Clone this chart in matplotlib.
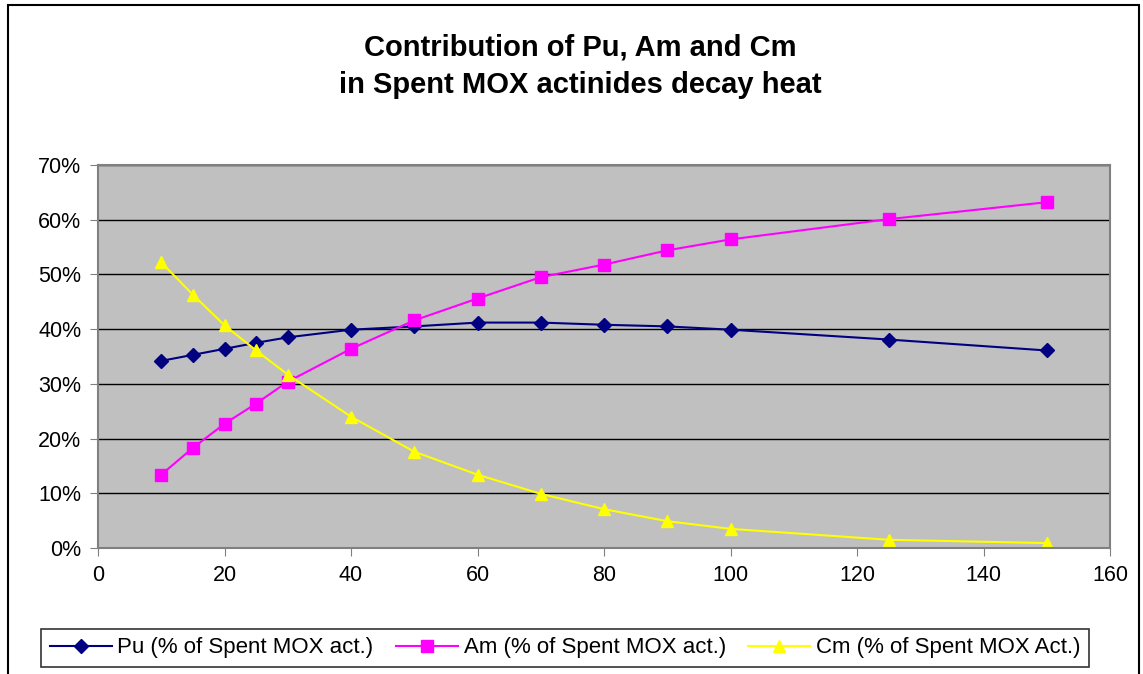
import matplotlib.pyplot as plt
from matplotlib.patches import Rectangle
from matplotlib.ticker import PercentFormatter

plt.rcParams["font.family"] = ["Liberation Sans", "DejaVu Sans"]

# Data
cooling_years = [10, 15, 20, 25, 30, 40, 50, 60, 70, 80, 90, 100, 125, 150]
pu_share = [34.2, 35.3, 36.4, 37.5, 38.5, 39.9, 40.5, 41.2, 41.2, 40.8, 40.5, 39.9, 38.1, 36.1]
am_share = [13.4, 18.3, 22.7, 26.4, 30.4, 36.4, 41.6, 45.6, 49.5, 51.8, 54.4, 56.4, 60.1, 63.2]
cm_share = [52.2, 46.3, 40.7, 36.1, 31.7, 24.0, 17.6, 13.4, 9.9, 7.1, 4.9, 3.5, 1.5, 0.9]

labels = [
    "Pu (% of Spent MOX act.)",
    "Am (% of Spent MOX act.)",
    "Cm (% of Spent MOX Act.)",
]

W, H = 1143, 674
fig = plt.figure(figsize=(W / 100, H / 100), dpi=100)
fig.patch.set_facecolor("white")

# outer chart border
fig.patches.append(Rectangle((8 / W, -0.01), 1131 / W, 1 - 5 / H + 0.01,
                             transform=fig.transFigure, fill=False,
                             edgecolor="black", linewidth=1.5))

ax = fig.add_axes([98 / W, 1 - 548 / H, 1012 / W, 383 / H])
ax.set_facecolor("#C0C0C0")

ax.plot(cooling_years, pu_share, color="#000080", marker="D", markersize=7,
        linewidth=1.5, label=labels[0])
ax.plot(cooling_years, am_share, color="#FF00FF", marker="s", markersize=8,
        linewidth=1.5, label=labels[1])
ax.plot(cooling_years, cm_share, color="#FFFF00", marker="^", markersize=9,
        linewidth=1.5, label=labels[2])

ax.set_xlim(0, 160)
ax.set_ylim(0, 70)
ax.set_xticks(range(0, 161, 20))
ax.set_yticks(range(0, 71, 10))
ax.yaxis.set_major_formatter(PercentFormatter(decimals=0))
ax.tick_params(labelsize=15.5, length=6, color="#808080", pad=6)

ax.grid(axis="y", color="black", linewidth=1)
ax.set_axisbelow(True)
for side in ax.spines.values():
    side.set_color("#808080")
    side.set_linewidth(1.5)

fig.text(580 / W, 1 - 47 / H, "Contribution of Pu, Am and Cm",
         ha="center", va="center", fontsize=21, fontweight="bold")
fig.text(580 / W, 1 - 85 / H, "in Spent MOX actinides decay heat",
         ha="center", va="center", fontsize=21, fontweight="bold")

leg = fig.legend(loc="center", bbox_to_anchor=(565 / W, 1 - 648 / H),
                 ncol=3, fontsize=16, frameon=True, fancybox=False,
                 edgecolor="black", handlelength=2.8, handletextpad=0.25,
                 columnspacing=1.0, borderpad=0.4, borderaxespad=0)
leg.get_frame().set_linewidth(1.2)

fig.savefig("out.png", dpi=100)
